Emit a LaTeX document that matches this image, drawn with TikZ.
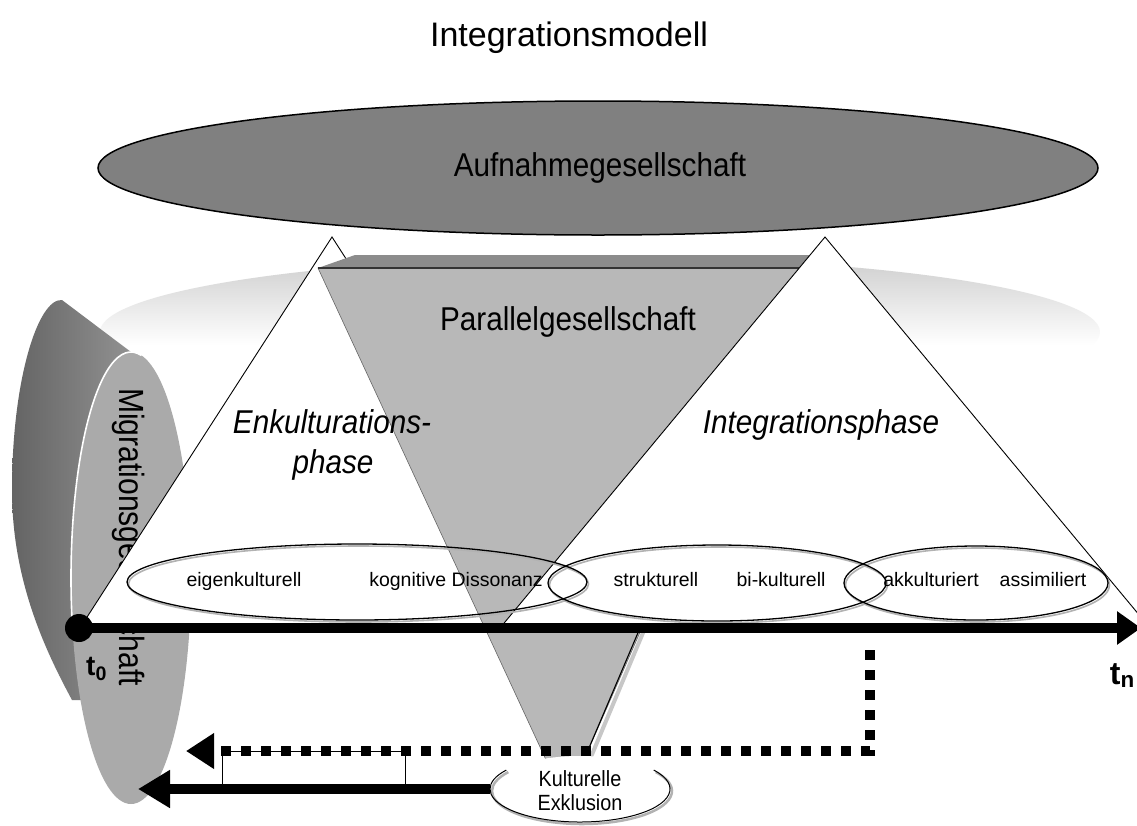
\documentclass[tikz,border=0pt]{standalone}
\usepackage{fontspec}
\setmainfont{Liberation Sans}
\usetikzlibrary{arrows.meta}
\definecolor{bgtop}{RGB}{205,205,205}
\definecolor{aufgray}{RGB}{128,128,128}
\definecolor{pargray}{RGB}{184,184,184}
\definecolor{partop}{RGB}{140,140,140}
\definecolor{migfront}{RGB}{170,170,170}
\definecolor{migdark}{RGB}{100,100,100}
\definecolor{migmid}{RGB}{145,145,145}
\newcommand{\cnd}[1]{\scalebox{0.9}[1]{#1}}
\newcommand{\fsz}[1]{\fontsize{#1}{#1}\selectfont}
\tikzset{
  tri/.style={draw=black, line width=0.9, fill=white},
  ell/.style={draw=black, line width=1.3},
  ellshadow/.style={draw=black!30, line width=1.6},
  lbl/.style={font=\fsz{19.5}, anchor=base, inner sep=0pt},
  big/.style={font=\fsz{33}, anchor=base, inner sep=0pt},
  phase/.style={font=\fsz{33}\itshape, anchor=base, inner sep=0pt},
  thick arrow/.style={line width=10, draw=black},
}
\begin{document}
\begin{tikzpicture}[x=1pt,y=-1pt]
\useasboundingbox (0,0) rectangle (1137,825);
\fill[white] (0,0) rectangle (1137,825);

% title
\node[font=\fsz{34}, anchor=base, inner sep=0pt] (title) at (569,46) {Integrationsmodell};

% faint background disc (rim fading downward)
\begin{scope}
  \clip (600,332) ellipse [x radius=500, y radius=75];
  \shade[top color=bgtop, bottom color=white] (100,256) rectangle (1100,345);
\end{scope}

% Aufnahmegesellschaft
\draw[line width=1.5, fill=aufgray] (598,168) ellipse [x radius=500, y radius=67];
\node[big] (auf) at (600,176) {\cnd{Aufnahmegesellschaft}};

% Migrationsgesellschaft (3D disc)
\shade[left color=migdark, right color=migmid]
  (131,352) -- (62,300) .. controls (38,298) and (12,380) .. (12,490)
  .. controls (12,580) and (45,650) .. (72,700) -- (100,700) -- cycle;
\fill[migfront] (131,578) ellipse [x radius=60, y radius=226];
\draw[white, line width=1.6] (131,578) ++(-80:60 and 226)
  arc[start angle=-80, end angle=-190, x radius=60, y radius=226];
\node[rotate=-90, font=\fsz{35}, inner sep=0pt] (mig) at (129,537) {\scalebox{0.86}[1]{Migrationsgesellschaft}};

% Enkulturationsphase triangle
\draw[tri] (80,628) -- (332,237) -- (584,628) -- cycle;

% Parallelgesellschaft (inverted triangle)
\draw[black!22, line width=4] (645,628) -- (588,764);
\fill[pargray, draw=black!60, line width=0.6] (318,268) -- (800,268) -- (583,762) -- (547,762) -- cycle;
\fill[partop] (318,268) -- (355,255) -- (812,255) -- (800,268) -- cycle;
\draw[black!80, line width=1.5] (318,268) -- (800,268);
\draw[black, line width=1.1] (640,628) -- (583,762);
\node[big] (par) at (568,330) {\cnd{Parallelgesellschaft}};

% Integrationsphase triangle
\draw[tri] (500,628) -- (825,237) -- (1150,628) -- cycle;

% phase labels
\node[phase] (enk1) at (332,433) {\cnd{Enkulturations-}};
\node[phase] (enk2) at (333,473) {\cnd{phase}};
\node[phase] (intp) at (821,433) {\cnd{Integrationsphase}};

% stage ellipses
\draw[ellshadow] (358.5,584) ellipse [x radius=230, y radius=38];
\draw[ellshadow] (718.5,585) ellipse [x radius=169, y radius=38];
\draw[ellshadow] (977.5,585) ellipse [x radius=132, y radius=37];
\draw[ell] (357,582) ellipse [x radius=230, y radius=38];
\draw[ell] (717,583) ellipse [x radius=169, y radius=38];
\draw[ell] (976,583) ellipse [x radius=132, y radius=37];

\node[lbl] (eig) at (244,586) {eigenkulturell};
\node[lbl] (kog) at (456,586) {kognitive Dissonanz};
\node[lbl] (str) at (656,586) {strukturell};
\node[lbl] (bik) at (781,586) {bi-kulturell};
\node[lbl] (akk) at (931,586) {akkulturiert};
\node[lbl] (ass) at (1043,586) {assimiliert};

% time axis
\coordinate (t0) at (79,628);
\coordinate (tn) at (1141,628);
\draw[thick arrow, -{Triangle[length=24pt,width=32pt]}] (t0) -- (tn);
\fill (t0) circle [radius=14];
\node[font=\bfseries\fsz{28}, anchor=base west, inner sep=0pt] (t0lab) at (86,675) {t\textsubscript{0}};
\node[font=\bfseries\fsz{32}, anchor=base east, inner sep=0pt] (tnlab) at (1135,684) {t\textsubscript{n}};

% return arrows
\coordinate (d1) at (870,650);
\coordinate (d2) at (870,751);
\coordinate (d3) at (186,751);
\draw[line width=10, dash pattern=on 10pt off 10pt, -{Triangle[length=28pt,width=34pt]}] (d1) -- (d2) -- (d3);
\coordinate (s1) at (490,789);
\coordinate (s2) at (138,789);
\draw[thick arrow, -{Triangle[length=32pt,width=36pt]}] (s1) -- (s2);
\draw[line width=1] (222,751) rectangle (405,789);

% Kulturelle Exklusion
\fill[white] (580,789) ellipse [x radius=90, y radius=33];
\draw[black!30, line width=2.5] (582,791) ++(-35:90 and 33) arc[start angle=-35, end angle=215, x radius=90, y radius=33];
\draw[line width=1] (580,789) ++(-35:90 and 33) arc[start angle=-35, end angle=215, x radius=90, y radius=33];
\node[font=\fsz{22}, anchor=base, inner sep=0pt] (kul1) at (580,786) {\cnd{Kulturelle}};
\node[font=\fsz{22}, anchor=base, inner sep=0pt] (kul2) at (580,810) {\cnd{Exklusion}};
\end{tikzpicture}
\end{document}
